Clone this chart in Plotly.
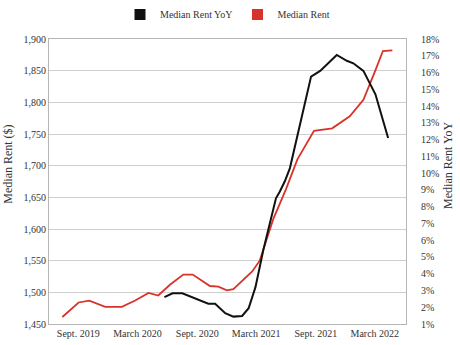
import plotly.graph_objects as go

# ---- data ----
rent_dates = ["2019-07-14", "2019-09-02", "2019-10-05", "2019-11-23", "2020-01-13",
              "2020-02-23", "2020-04-04", "2020-05-04", "2020-06-09", "2020-07-20",
              "2020-08-18", "2020-10-10", "2020-11-05", "2020-12-01", "2020-12-21",
              "2021-02-17", "2021-03-12", "2021-04-23", "2021-06-01", "2021-07-06",
              "2021-08-26", "2021-10-21", "2021-12-14", "2022-01-25", "2022-03-01",
              "2022-03-26", "2022-04-24"]
median_rent = [1461, 1484, 1487, 1477, 1477,
               1487, 1499, 1495, 1512, 1528,
               1528, 1510, 1509, 1503, 1505,
               1533, 1550, 1616, 1663, 1710,
               1755, 1759, 1778, 1804, 1848,
               1881, 1882]

yoy_dates = ["2020-05-23", "2020-06-17", "2020-07-17", "2020-08-31", "2020-10-05",
             "2020-10-26", "2020-11-26", "2020-12-21", "2021-01-17", "2021-02-06",
             "2021-02-27", "2021-03-23", "2021-04-16", "2021-05-01", "2021-05-13",
             "2021-05-28", "2021-06-13", "2021-08-17", "2021-09-14", "2021-11-04",
             "2021-12-05", "2021-12-25", "2022-01-25", "2022-03-03", "2022-04-11"]
median_rent_yoy = [2.6, 2.83, 2.83, 2.47, 2.21,
                   2.21, 1.64, 1.44, 1.48, 1.94,
                   3.2, 5.4, 7.3, 8.5, 8.9,
                   9.5, 10.3, 15.76, 16.1, 17.05,
                   16.7, 16.55, 16.1, 14.7, 12.1]

tick_dates = ["2019-09-01", "2020-03-01", "2020-09-01", "2021-03-01", "2021-09-01", "2022-03-01"]
tick_labels = ["Sept. 2019", "March 2020", "Sept. 2020", "March 2021", "Sept. 2021", "March 2022"]

left_title = "Median Rent ($)"
right_title = "Median Rent YoY"

RED = "#d8332a"
BLACK = "#111111"
FONT = "Liberation Serif"
GRID = "#cfcfcf"
BORDER = "#b5b5b5"
TEXT = "#333333"

fig = go.Figure()

fig.add_trace(go.Scatter(x=yoy_dates, y=median_rent_yoy, mode="lines", yaxis="y2",
                         line=dict(color=BLACK, width=2), showlegend=False))
fig.add_trace(go.Scatter(x=rent_dates, y=median_rent, mode="lines", yaxis="y",
                         line=dict(color=RED, width=1.8), showlegend=False))

# legend entries (square swatches)
fig.add_trace(go.Scatter(x=[None], y=[None], mode="markers", name="Median Rent YoY",
                         marker=dict(symbol="square", size=11, color=BLACK)))
fig.add_trace(go.Scatter(x=[None], y=[None], mode="markers", name="Median Rent",
                         marker=dict(symbol="square", size=11, color=RED)))

fig.update_layout(
    width=460, height=345,
    margin=dict(l=49, r=54, t=39, b=21, autoexpand=False),
    paper_bgcolor="white", plot_bgcolor="white",
    font=dict(family=FONT, size=10, color=TEXT),
    legend=dict(orientation="h", x=0.5, xanchor="center", y=1.0, yanchor="top",
                yref="container", font=dict(size=10, color=TEXT),
                itemclick=False, traceorder="normal"),
    xaxis=dict(type="date", range=["2019-06-03", "2022-06-05"], automargin=False,
               tickvals=tick_dates, ticktext=tick_labels,
               showgrid=False, showline=True, linecolor=BORDER, linewidth=1,
               mirror=True, ticks="", tickfont=dict(size=10)),
    yaxis=dict(range=[1450, 1900], dtick=50, tickformat=",", automargin=False,
               showgrid=True, gridcolor=GRID, gridwidth=1,
               showline=True, linecolor=BORDER, linewidth=1, mirror=True,
               zeroline=False, ticks=""),
    yaxis2=dict(range=[1, 18], dtick=1, ticksuffix="%", overlaying="y", side="right",
                automargin=False, showgrid=False, zeroline=False, showline=False,
                ticks="outside", ticklen=12, tickcolor="rgba(0,0,0,0)"),
    annotations=[
        dict(text=left_title, xref="paper", yref="paper", x=-0.114, y=0.56,
             xanchor="center", yanchor="middle", textangle=-90, showarrow=False,
             font=dict(size=12, color=TEXT)),
        dict(text=right_title, xref="paper", yref="paper", x=1.118, y=0.555,
             xanchor="center", yanchor="middle", textangle=-90, showarrow=False,
             font=dict(size=12, color=TEXT)),
    ],
)

fig.write_html("out.html")
